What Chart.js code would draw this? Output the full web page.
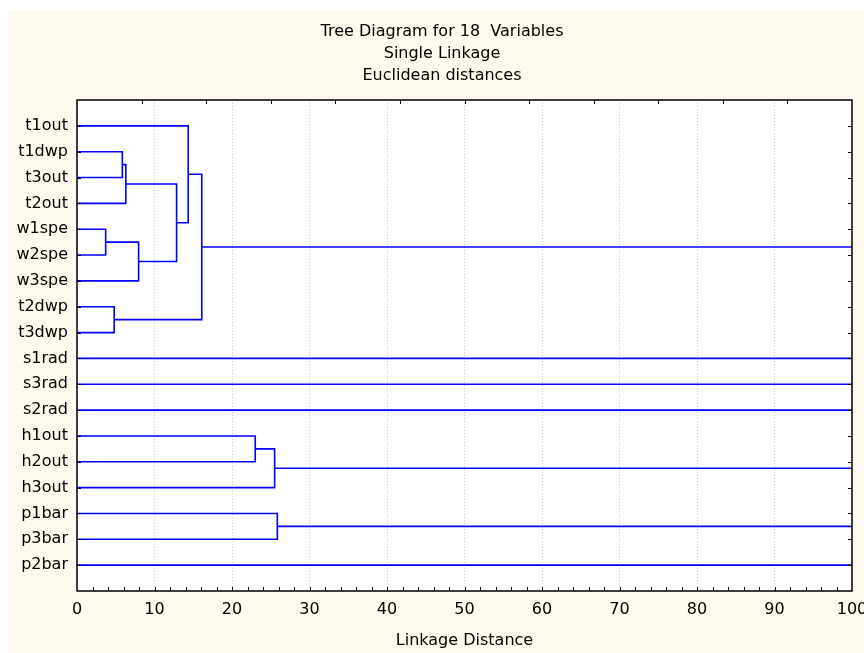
<!DOCTYPE html>
<html>
<head>
<meta charset="utf-8">
<script src="https://cdn.jsdelivr.net/npm/chart.js"></script>
<style>
  body { margin: 0; background: #ffffff; }
  canvas { display: block; }
</style>
</head>
<body>
<canvas id="chartCanvas" width="864" height="653"></canvas>
<script>
// Leaves, top to bottom
const leafLabels = ["t1out", "t1dwp", "t3out", "t2out", "w1spe", "w2spe", "w3spe", "t2dwp", "t3dwp",
                    "s1rad", "s3rad", "s2rad", "h1out", "h2out", "h3out", "p1bar", "p3bar", "p2bar"];

// Merges: node ids 0-17 are leaves, merge i becomes node 18 + i
const mergeA = [4, 7, 1, 20, 18, 21, 0, 24, 12, 26, 15];
const mergeB = [5, 8, 2, 3, 6, 22, 23, 19, 13, 14, 16];
const mergeDist = [3.7, 4.8, 5.85, 6.3, 7.95, 12.85, 14.35, 16.1, 23.0, 25.5, 25.85];

const xTickValues = [0, 10, 20, 30, 40, 50, 60, 70, 80, 90, 100];
const distMax = 100;

const lineColor = '#0000ff';
const cream = '#fdf9ee';

// position (row) and height of each node
const nodeY = leafLabels.map((_, i) => i);
const nodeH = leafLabels.map(() => 0);
const hasParent = [];
mergeA.forEach((a, i) => {
  const b = mergeB[i];
  nodeY.push((nodeY[a] + nodeY[b]) / 2);
  nodeH.push(mergeDist[i]);
  hasParent[a] = true;
  hasParent[b] = true;
});

const datasets = [];
mergeA.forEach((a, i) => {
  const b = mergeB[i];
  datasets.push({
    data: [
      { x: nodeH[a], y: nodeY[a] },
      { x: mergeDist[i], y: nodeY[a] },
      { x: mergeDist[i], y: nodeY[b] },
      { x: nodeH[b], y: nodeY[b] }
    ]
  });
});
// clusters still open at the right edge
nodeY.forEach((y, n) => {
  if (!hasParent[n]) {
    datasets.push({ data: [{ x: nodeH[n], y: y }, { x: distMax, y: y }] });
  }
});
datasets.forEach(ds => {
  ds.borderColor = lineColor;
  ds.borderWidth = 1.6;
  ds.pointRadius = 0;
  ds.fill = false;
  ds.tension = 0;
});

const backgroundPlugin = {
  id: 'background',
  afterLayout(chart) {
    // the original title sits a bit right of the canvas centre
    if (chart.titleBlock) {
      chart.titleBlock.left += 16;
      chart.titleBlock.right += 16;
    }
  },
  beforeDraw(chart) {
    const ctx = chart.ctx;
    const a = chart.chartArea;
    ctx.save();
    ctx.fillStyle = '#ffffff';
    ctx.fillRect(0, 0, chart.width, chart.height);
    ctx.fillStyle = cream;
    ctx.fillRect(8, 10, chart.width - 8, chart.height - 10);
    ctx.fillStyle = '#ffffff';
    ctx.fillRect(a.left, a.top, a.right - a.left, a.bottom - a.top);
    ctx.restore();
  }
};

// frame and inward tick marks
const framePlugin = {
  id: 'frame',
  afterDraw(chart) {
    const ctx = chart.ctx;
    const a = chart.chartArea;
    const xs = chart.scales.x;
    const ys = chart.scales.y;
    ctx.save();
    ctx.strokeStyle = '#000000';
    ctx.lineWidth = 1;
    ctx.beginPath();
    for (let v = 2; v < 100; v += 2) {
      const px = Math.round(xs.getPixelForValue(v)) + 0.5;
      ctx.moveTo(px, a.bottom);
      ctx.lineTo(px, a.bottom - 4);
    }
    for (let k = 1; k < 12; k++) {
      const px = Math.round(xs.getPixelForValue(k * 100 / 12)) + 0.5;
      ctx.moveTo(px, a.top);
      ctx.lineTo(px, a.top + 4);
    }
    leafLabels.forEach((_, i) => {
      const py = Math.round(ys.getPixelForValue(i)) + 0.5;
      ctx.moveTo(a.left, py);
      ctx.lineTo(a.left + 4, py);
      ctx.moveTo(a.right, py);
      ctx.lineTo(a.right - 4, py);
    });
    ctx.stroke();
    ctx.lineWidth = 1.5;
    ctx.strokeRect(Math.round(a.left), Math.round(a.top), Math.round(a.right - a.left), Math.round(a.bottom - a.top));
    ctx.restore();
  }
};

Chart.defaults.font.family = "'DejaVu Sans', sans-serif";
Chart.defaults.font.size = 16;
Chart.defaults.color = '#000000';

const ctx = document.getElementById('chartCanvas').getContext('2d');
new Chart(ctx, {
  type: 'line',
  data: { datasets: datasets },
  options: {
    responsive: false,
    animation: false,
    devicePixelRatio: 1,
    layout: { padding: { left: 0, right: 12, top: 0, bottom: 0 } },
    plugins: {
      legend: { display: false },
      tooltip: { enabled: false },
      title: {
        display: true,
        text: ['Tree Diagram for 18  Variables', 'Single Linkage', 'Euclidean distances'],
        color: '#000000',
        font: { size: 16, weight: 'normal', lineHeight: 1.375 },
        padding: { top: 21, bottom: 13 }
      }
    },
    scales: {
      x: {
        type: 'linear',
        min: 0,
        max: distMax,
        afterBuildTicks: (scale) => { scale.ticks = xTickValues.map(v => ({ value: v })); },
        ticks: { padding: 9, maxRotation: 0, autoSkip: false },
        grid: { color: '#c8c8c8', drawTicks: false },
        border: { display: false, dash: [1, 2] },
        title: { display: true, text: 'Linkage Distance', padding: { top: 0, bottom: 3 } },
        afterFit: (scale) => {
          scale.height = 62;
          scale.paddingLeft = 0;
          scale.paddingRight = 0;
        }
      },
      y: {
        type: 'linear',
        reverse: true,
        min: -1,
        max: leafLabels.length,
        afterBuildTicks: (scale) => { scale.ticks = leafLabels.map((_, i) => ({ value: i })); },
        ticks: { padding: 9, autoSkip: false, callback: (v) => leafLabels[v] },
        grid: { display: false, drawTicks: false },
        border: { display: false },
        afterFit: (scale) => {
          scale.width = 77;
          scale.paddingTop = 0;
          scale.paddingBottom = 0;
        }
      }
    }
  },
  plugins: [backgroundPlugin, framePlugin]
});
</script>
</body>
</html>
